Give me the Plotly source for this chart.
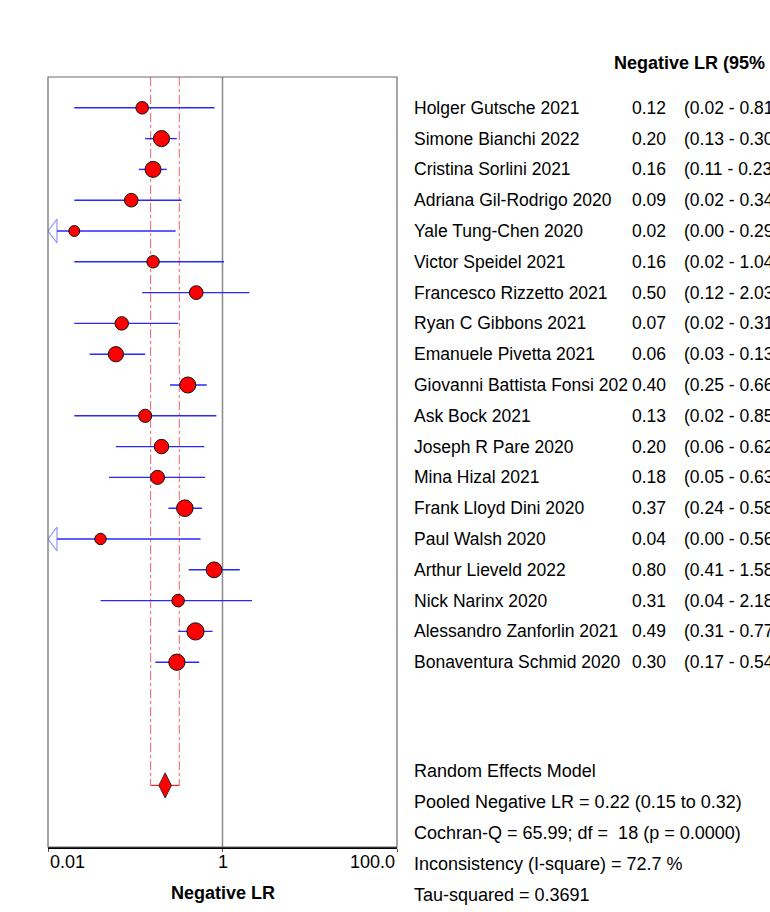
import math
import plotly.graph_objects as go

# ---------------- data ----------------
studies = [
    "Holger Gutsche 2021", "Simone Bianchi 2022", "Cristina Sorlini 2021",
    "Adriana Gil-Rodrigo 2020", "Yale Tung-Chen 2020", "Victor Speidel 2021",
    "Francesco Rizzetto 2021", "Ryan C Gibbons 2021", "Emanuele Pivetta 2021",
    "Giovanni Battista Fonsi 202", "Ask Bock 2021", "Joseph R Pare 2020",
    "Mina Hizal 2021", "Frank Lloyd Dini 2020", "Paul Walsh 2020",
    "Arthur Lieveld 2022", "Nick Narinx 2020", "Alessandro Zanforlin 2021",
    "Bonaventura Schmid 2020",
]
lr = [0.12, 0.20, 0.16, 0.09, 0.02, 0.16, 0.50, 0.07, 0.06, 0.40, 0.13, 0.20,
      0.18, 0.37, 0.04, 0.80, 0.31, 0.49, 0.30]
ci_low = [0.02, 0.13, 0.11, 0.02, 0.00, 0.02, 0.12, 0.02, 0.03, 0.25, 0.02, 0.06,
          0.05, 0.24, 0.00, 0.41, 0.04, 0.31, 0.17]
ci_high = [0.81, 0.30, 0.23, 0.34, 0.29, 1.04, 2.03, 0.31, 0.13, 0.66, 0.85, 0.62,
           0.63, 0.58, 0.56, 1.58, 2.18, 0.77, 0.54]
# estimated relative weights (%)
weights = [4.0, 6.6, 6.5, 4.7, 3.0, 3.9, 4.8, 4.6, 5.9, 6.5, 4.4, 5.3, 5.0, 7.0,
           3.3, 6.3, 4.0, 7.5, 6.7]
pooled = 0.22
pooled_low = 0.15
pooled_high = 0.32
tick_vals = [0.01, 1, 100]
tick_text = ["0.01", "1", "100.0"]
summary_lines = [
    "Random Effects Model",
    "Pooled Negative LR = 0.22 (0.15 to 0.32)",
    "Cochran-Q = 65.99; df =  18 (p = 0.0000)",
    "Inconsistency (I-square) = 72.7 %",
    "Tau-squared = 0.3691",
]
header = "Negative LR (95% CI)"
x_title = "Negative LR"

# ---------------- layout constants ----------------
W, H = 770, 912
L, R, T, B = 48, 397, 77, 847          # plot area in pixels
XMIN, XMAX = 0.01, 100
YTOP, YBOT = -1, 24
POOLED_ROW = 22
FONT = "Liberation Sans, Arial, sans-serif"
FS = 18
FS_ROW = 17.5
BLUE = "rgb(40,40,255)"
px_per_dec = (R - L) / (math.log10(XMAX) - math.log10(XMIN))
row_px = (B - T) / (YBOT - YTOP)


def px2paper_x(px):
    return (px - L) / (R - L)


def px2paper_y(py):
    return (B - py) / (B - T)


rows = list(range(len(studies)))
fig = go.Figure()

# vertical line at 1
fig.add_trace(go.Scatter(x=[1, 1], y=[YTOP, YBOT], mode="lines",
                         line=dict(color="#8a8a8a", width=1.5),
                         hoverinfo="skip", showlegend=False))

# pooled dashed reference lines
fig.add_trace(go.Scatter(
    x=[pooled_low, pooled_low, None, pooled_high, pooled_high],
    y=[YTOP, POOLED_ROW, None, YTOP, POOLED_ROW],
    mode="lines", line=dict(color="rgba(225,0,0,0.6)", width=1, dash="dashdot"),
    hoverinfo="skip", showlegend=False))
fig.add_trace(go.Scatter(x=[pooled_low, pooled_high], y=[POOLED_ROW, POOLED_ROW],
                         mode="lines", line=dict(color="rgba(225,0,0,0.85)", width=1.2),
                         hoverinfo="skip", showlegend=False))

# CI lines, clipped ones get an open arrow at the left edge
arrow_w = 9 / px_per_dec      # arrow width in decades
arrow_h = 12 / row_px         # half height in rows
ci_x, ci_y, arr_x, arr_y = [], [], [], []
for i in rows:
    lo = ci_low[i]
    if lo < XMIN:
        base = XMIN * 10 ** arrow_w
        ci_x += [base, ci_high[i], None]
        arr_x += [base, XMIN * 1.001, base, base, None]
        arr_y += [i - arrow_h, i, i + arrow_h, i - arrow_h, None]
    else:
        ci_x += [lo, ci_high[i], None]
    ci_y += [i, i, None]
fig.add_trace(go.Scatter(x=ci_x, y=ci_y, mode="lines", line=dict(color=BLUE, width=1.4),
                         hoverinfo="skip", showlegend=False))
fig.add_trace(go.Scatter(x=arr_x, y=arr_y, mode="lines",
                         line=dict(color="rgba(60,60,255,0.55)", width=1.2),
                         hoverinfo="skip", showlegend=False))

# study point estimates
sizes = [math.sqrt(w * 39.5) for w in weights]
fig.add_trace(go.Scatter(x=lr, y=rows, mode="markers",
                         marker=dict(symbol="circle", size=sizes, color="#ff0000", opacity=1,
                                     line=dict(color="#111", width=1)),
                         cliponaxis=False, showlegend=False))

# pooled diamond
fig.add_trace(go.Scatter(x=[pooled], y=[POOLED_ROW], mode="markers",
                         marker=dict(symbol="diamond-tall", size=18, color="#ff0000", opacity=1,
                                     line=dict(color="#333", width=1)),
                         showlegend=False))

ann = []
row_font = dict(size=FS_ROW)
# right-hand table
for i in rows:
    ann.append(dict(x=px2paper_x(412), xref="paper", y=i, yref="y", text=studies[i],
                    xanchor="left", yanchor="middle", showarrow=False, font=row_font))
    ann.append(dict(x=px2paper_x(630), xref="paper", y=i, yref="y", text=f"{lr[i]:.2f}",
                    xanchor="left", yanchor="middle", showarrow=False, font=row_font))
    ann.append(dict(x=px2paper_x(682), xref="paper", y=i, yref="y",
                    text=f"({ci_low[i]:.2f} - {ci_high[i]:.2f})",
                    xanchor="left", yanchor="middle", showarrow=False, font=row_font))
ann.append(dict(x=px2paper_x(612), xref="paper", y=px2paper_y(63), yref="paper",
                text=f"<b>{header}</b>", xanchor="left", yanchor="middle", showarrow=False))
for k, line in enumerate(summary_lines):
    ann.append(dict(x=px2paper_x(412), xref="paper", y=px2paper_y(771 + k * 31), yref="paper",
                    text=line, xanchor="left", yanchor="middle", showarrow=False))
# tick labels
anchors = ["left", "center", "right"]
for v, t, a in zip(tick_vals, tick_text, anchors):
    ann.append(dict(x=math.log10(v), xref="x", y=px2paper_y(862), yref="paper", text=t,
                    xanchor=a, yanchor="middle", showarrow=False))
ann.append(dict(x=px2paper_x((L + R) / 2), xref="paper", y=px2paper_y(893), yref="paper",
                text=f"<b>{x_title}</b>", xanchor="center", yanchor="middle", showarrow=False))

fig.update_layout(
    width=W, height=H,
    margin=dict(l=L, r=W - R, t=T, b=H - B, pad=0),
    paper_bgcolor="white", plot_bgcolor="white",
    font=dict(family=FONT, size=FS, color="black"),
    annotations=ann,
    shapes=[dict(type="rect", xref="paper", yref="paper", x0=0, x1=1, y0=0, y1=1,
                 line=dict(color="#6a6a6a", width=1.2), layer="above")],
    xaxis=dict(type="log", range=[math.log10(XMIN), math.log10(XMAX)], showgrid=False,
               zeroline=False, tickvals=tick_vals, showticklabels=False,
               ticks="outside", ticklen=3, tickcolor="#555",
               showline=True, linecolor="black", linewidth=1.5),
    yaxis=dict(range=[YBOT, YTOP], visible=False, showgrid=False, zeroline=False),
)

fig.write_html("out.html", config={"displayModeBar": False},
               post_script="document.body.style.margin='0';")
